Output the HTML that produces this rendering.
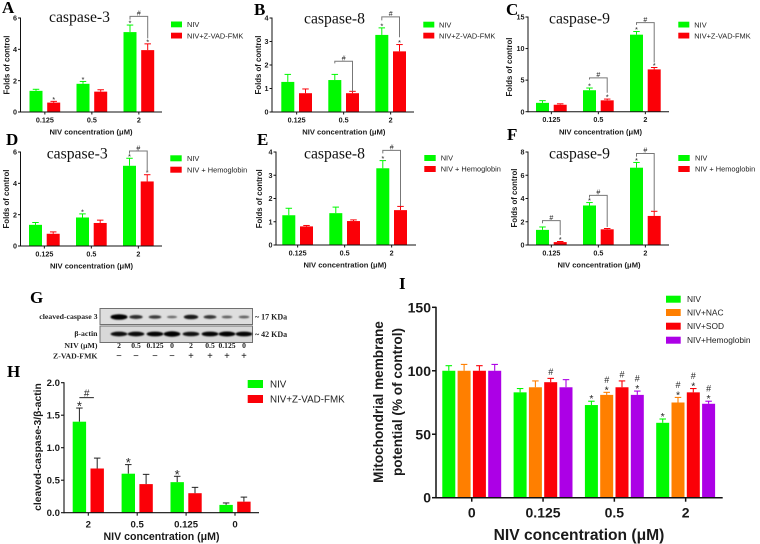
<!DOCTYPE html>
<html lang="en">
<head>
<meta charset="utf-8">
<title>NIV caspase and mitochondrial membrane potential figure</title>
<style>
html,body{margin:0;padding:0;background:#fff;width:760px;height:544px;overflow:hidden}
#figure{display:block;filter:blur(.35px)}
text{font-family:"Liberation Sans",sans-serif}
.serif{font-family:"Liberation Serif",serif}
</style>
</head>
<body>
<svg id="figure" width="760" height="544" viewBox="0 0 760 544" xmlns="http://www.w3.org/2000/svg">
<defs><filter id="bandBlur" x="-30%" y="-80%" width="160%" height="260%"><feGaussianBlur stdDeviation="0.8"/></filter></defs>
<g class="serif" font-family="Liberation Serif" font-weight="bold" font-size="17" fill="#000">
<text x="2" y="13" style="font-family:'Liberation Serif',serif">A</text>
<text x="254" y="15" style="font-family:'Liberation Serif',serif">B</text>
<text x="506" y="15" style="font-family:'Liberation Serif',serif">C</text>
<text x="6" y="145" style="font-family:'Liberation Serif',serif">D</text>
<text x="257" y="145" style="font-family:'Liberation Serif',serif">E</text>
<text x="507" y="140" style="font-family:'Liberation Serif',serif">F</text>
<text x="30" y="303" style="font-family:'Liberation Serif',serif">G</text>
<text x="7" y="377" style="font-family:'Liberation Serif',serif">H</text>
<text x="399" y="289" style="font-family:'Liberation Serif',serif">I</text>
</g>
<g id="blot">
<rect x="100" y="308.5" width="152.5" height="16" fill="#dedede" stroke="#707070"/>
<rect x="100" y="326" width="152.5" height="16.5" fill="#d8d8d8" stroke="#707070"/>
<g font-weight="bold" font-size="7.8" fill="#222" style="font-family:'Liberation Serif',serif">
<text x="97.5" y="319" text-anchor="end" style="font-family:'Liberation Serif',serif">cleaved-caspase 3</text>
<text x="97.5" y="336" text-anchor="end" style="font-family:'Liberation Serif',serif">β-actin</text>
<text x="97.5" y="348" text-anchor="end" style="font-family:'Liberation Serif',serif">NIV (μM)</text>
<text x="97.5" y="358.5" text-anchor="end" style="font-family:'Liberation Serif',serif">Z-VAD-FMK</text>
<text x="255" y="319.5" font-size="8" style="font-family:'Liberation Serif',serif">~ 17 KDa</text>
<text x="255" y="337" font-size="8" style="font-family:'Liberation Serif',serif">~ 42 KDa</text>
</g>
</g>
</svg>
<script>
// Shared categories
const doseCategories = ['0.125', '0.5', '2'];
const hCategories = ['2', '0.5', '0.125', '0'];
const iCategories = ['0', '0.125', '0.5', '2'];

// Panel A
const aNiv = [1.35, 1.8, 5.1];
const aNivErr = [0.1, 0.15, 0.45];
const aDrug = [0.6, 1.3, 3.95];
const aDrugErr = [0.08, 0.12, 0.4];
// Panel B
const bNiv = [1.28, 1.36, 3.28];
const bNivErr = [0.32, 0.24, 0.3];
const bDrug = [0.8, 0.8, 2.58];
const bDrugErr = [0.18, 0.08, 0.29];
// Panel C
const cNiv = [1.4, 3.4, 12.2];
const cNivErr = [0.35, 0.35, 0.5];
const cDrug = [1.1, 1.8, 6.7];
const cDrugErr = [0.15, 0.2, 0.3];
// Panel D
const dNiv = [1.35, 1.82, 5.12];
const dNivErr = [0.15, 0.23, 0.48];
const dDrug = [0.78, 1.47, 4.12];
const dDrugErr = [0.12, 0.18, 0.43];
// Panel E
const eNiv = [1.28, 1.37, 3.3];
const eNivErr = [0.3, 0.26, 0.33];
const eDrug = [0.8, 1.03, 1.5];
const eDrugErr = [0.04, 0.05, 0.16];
// Panel F
const fNiv = [1.3, 3.4, 6.65];
const fNivErr = [0.25, 0.25, 0.45];
const fDrug = [0.25, 1.35, 2.5];
const fDrugErr = [0.05, 0.07, 0.4];
// Panel H
const hNiv = [1.4, 0.6, 0.47, 0.12];
const hNivErr = [0.21, 0.14, 0.09, 0.03];
const hDrug = [0.68, 0.44, 0.3, 0.17];
const hDrugErr = [0.16, 0.15, 0.09, 0.07];
// Panel I
const iNiv = [100, 83, 73, 59];
const iNivErr = [4, 3, 3, 3];
const iNac = [100, 87, 81, 75];
const iNacErr = [5, 5, 2, 4];
const iSod = [100, 91, 87, 83];
const iSodErr = [4, 3, 5, 3];
const iHem = [100, 87, 81, 74];
const iHemErr = [5, 6, 3, 2];
// Tick labels
const ticks0to6 = [0, 2, 4, 6];
const ticks0to4 = [0, 1, 2, 3, 4];
const ticks0to15 = [0, 5, 10, 15];
const ticks0to8 = [0, 2, 4, 6, 8];
const ticksH = ['0.0', '0.5', '1.0', '1.5', '2.0'];
const ticksI = [0, 50, 100, 150];
// Blot data
const laneDoses = ['2', '0.5', '0.125', '0', '2', '0.5', '0.125', '0'];
const laneInhibitor = ['−', '−', '−', '−', '+', '+', '+', '+'];
const caspaseBand = [1, 0.6, 0.52, 0.25, 0.72, 0.55, 0.3, 0.3];
const actinBand = [0.8, 0.82, 0.86, 1, 0.78, 0.85, 0.9, 0.85];

const GREEN = '#00f900', RED = '#fb0007', ORANGE = '#ff7f00', PURPLE = '#ac00e6';
const NS = 'http://www.w3.org/2000/svg';
const svg = document.getElementById('figure');

function mk(tag, attrs, parent, txt) {
  const n = document.createElementNS(NS, tag);
  for (const k in attrs) n.setAttribute(k, attrs[k]);
  if (txt !== undefined) n.textContent = txt;
  parent.appendChild(n);
  return n;
}

function drawPanel(c) {
  const g = mk('g', {}, svg);
  
  
  const yS = v => c.y0 - v / c.yMax * (c.y0 - c.top);
  const xS = (gi, si) => c.x0 + gi * c.gStep + si * c.barStep;
  const nS = c.series.length;
  const center = gi => xS(gi, 0) + ((nS - 1) * c.barStep + c.barW) / 2;

  // Bars and error bars
  c.series.forEach((s, si) => {
    s.values.forEach((v, gi) => {
      const x = xS(gi, si), cx = x + c.barW / 2, top = yS(v + s.errs[gi]);
      const ec = c.errColor || s.color;
      const stem = mk('line', {x1: cx, x2: cx, y1: yS(v), y2: top, stroke: ec, 'stroke-width': c.errW}, g);
      
      
      const cap = mk('line', {x1: cx - c.capW / 2, x2: cx + c.capW / 2, y1: top, y2: top, stroke: ec, 'stroke-width': c.errW}, g);
      
      
      const bar = mk('rect', {x: x, y: yS(v), width: c.barW, height: c.y0 - yS(v), fill: s.color}, g);
      
      
    });
  });

  // Axes
  const ya = mk('line', {x1: c.ox, x2: c.ox, y1: c.top - .5, y2: c.y0 + .5, stroke: '#111', 'stroke-width': c.axisW}, g);
  
  
  const xa = mk('line', {x1: c.ox, x2: c.xEnd, y1: c.y0, y2: c.y0, stroke: '#111', 'stroke-width': c.axisW}, g);
  
  

  c.yTicks.forEach((t, i) => {
    const v = Number(t), y = yS(v);
    const tk = mk('line', {x1: c.ox - c.tickLen, x2: c.ox, y1: y, y2: y, stroke: '#111', 'stroke-width': c.axisW}, g);
    
    
    const lb = mk('text', {x: c.ox - c.tickLen - 1, y: y + c.tickFont * .36, 'text-anchor': 'end', 'font-size': c.tickFont, 'font-weight': 'bold', fill: '#1a1a1a'}, g, t);
    
    
  });
  c.cats.forEach((t, i) => {
    const x = center(i);
    const tk = mk('line', {x1: x, x2: x, y1: c.y0, y2: c.y0 + c.tickLen, stroke: '#111', 'stroke-width': c.axisW}, g);
    
    
    const lb = mk('text', {x: x, y: c.y0 + c.xLabelDy, 'text-anchor': 'middle', 'font-size': c.tickFont, 'font-weight': 'bold', fill: '#1a1a1a'}, g, t);
    
    
  });

  // Axis titles
  const xt = mk('text', {x: c.xTitle[0], y: c.xTitle[1], 'text-anchor': 'middle', 'font-size': c.xTitleFont, 'font-weight': 'bold', fill: '#1a1a1a'}, g, 'NIV concentration (μM)');
  
  
  c.yTitle.forEach(line => {
    const yt = mk('text', {transform: 'translate(' + line[1] + ',' + line[2] + ') rotate(-90)', 'text-anchor': 'middle', 'font-size': c.yTitleFont, 'font-weight': 'bold', fill: '#1a1a1a'}, g, line[0]);
    
    
  });

  // Chart title
  if (c.title) {
    const tt = mk('text', {x: c.title[1], y: c.title[2], 'font-size': 15.7, fill: '#111', style: "font-family:'Liberation Serif',serif"}, g, c.title[0]);
    
    
  }

  // Legend
  c.series.forEach((s, si) => {
    const sw = mk('rect', {x: c.legend.x, y: c.legend.ys[si], width: c.legend.w, height: c.legend.h, fill: s.color}, g);
    
    
    const lt = mk('text', {x: c.legend.tx, y: c.legend.ys[si] + c.legend.h / 2 + c.legend.font * .36, 'font-size': c.legend.font, fill: '#222'}, g, s.name);
    
    
  });

  // Significance stars and hashes
  (c.marks || []).forEach(m => {
    const s = c.series[m[1]];
    const cx = xS(m[0], m[1]) + c.barW / 2;
    const top = yS(s.values[m[0]] + s.errs[m[0]]);
    m[2].split('').forEach((ch, k) => {
      const by = top + c.markDy - k * c.markStep;
      const t = mk('text', {x: cx, y: by + (ch === '#' ? c.hashDy : 0), 'text-anchor': 'middle', 'font-size': ch === '#' ? (c.hashFont || c.markFont) : c.markFont, fill: '#222'}, g, ch);
      
      
    });
  });

  // Brackets: group, top value, left end value, right end value
  (c.brackets || []).forEach(b => {
    const x1 = xS(b[0], 0) + c.barW / 2;
    const x2 = x1 + (c.bracketSpan || c.barStep);
    const br = mk('polyline', {points: x1 + ',' + yS(b[2]) + ' ' + x1 + ',' + yS(b[1]) + ' ' + x2 + ',' + yS(b[1]) + ' ' + x2 + ',' + yS(b[3]), fill: 'none', stroke: c.bracketColor || '#777', 'stroke-width': c.bracketW || 1}, g);
    
    
    const h = mk('text', {x: (x1 + x2) / 2, y: yS(b[1]) - c.bracketHashDy, 'text-anchor': 'middle', 'font-size': c.bracketHashFont || 7, fill: '#222'}, g, '#');
    
    
  });
}

const small = {tickFont: 7.2, xTitleFont: 7.6, yTitleFont: 7.8, axisW: 1, tickLen: 2.5, xLabelDy: 10.5, barW: 13, barStep: 17.7, gStep: 47, capW: 6.5, errW: 1, markFont: 7.6, markDy: .5, markStep: 6, hashDy: 0, bracketHashDy: .8};
const two = (k1, v1, e1, k2, n2, v2, e2) => [
  {key: k1, name: 'NIV', values: v1, errs: e1, color: GREEN},
  {key: k2, name: n2, values: v2, errs: e2, color: RED}
];

drawPanel(Object.assign({}, small, {id: 'a', ox: 20.5, y0: 112, top: 18, xEnd: 162, yMax: 6, yTicks: ticks0to6, x0: 29.5, cats: doseCategories,
  series: two('niv', aNiv, aNivErr, 'zvad', 'NIV+Z-VAD-FMK', aDrug, aDrugErr),
  title: ['caspase-3', 49, 22], xTitle: [91, 134.3], yTitle: [['Folds of control', 9.5, 65]],
  legend: {x: 171, ys: [21.5, 32.7], w: 11, h: 5.8, tx: 187, font: 7.4},
  marks: [[0,1,'*'],[1,0,'*'],[2,0,'*'],[2,1,'*']], brackets: [[2, 6.1, 5.9, 4.7]]}));
drawPanel(Object.assign({}, small, {id: 'b', ox: 272, y0: 112, top: 18, xEnd: 414, yMax: 4, yTicks: ticks0to4, x0: 281.3, cats: doseCategories,
  series: two('niv', bNiv, bNivErr, 'zvad', 'NIV+Z-VAD-FMK', bDrug, bDrugErr),
  title: ['caspase-8', 304, 23.5], xTitle: [343.8, 134.3], yTitle: [['Folds of control', 261, 65]],
  legend: {x: 423.3, ys: [21.7, 32.7], w: 11, h: 5.8, tx: 439, font: 7.4},
  marks: [[2,0,'*'],[2,1,'*']], brackets: [[1, 2.16, 2.07, .87],[2, 4.05, 3.9, 3.18]]}));
drawPanel(Object.assign({}, small, {id: 'c', ox: 528, y0: 111.7, top: 17, xEnd: 669, yMax: 15, yTicks: ticks0to15, x0: 536, cats: doseCategories,
  series: two('niv', cNiv, cNivErr, 'zvad', 'NIV+Z-VAD-FMK', cDrug, cDrugErr),
  title: ['caspase-9', 549, 23.5], xTitle: [600.5, 134.7], yTitle: [['Folds of control', 512, 67]],
  legend: {x: 678.3, ys: [21.7, 32.7], w: 11, h: 5.8, tx: 694.3, font: 7.4},
  marks: [[1,0,'*'],[1,1,'*'],[2,0,'*'],[2,1,'*']], brackets: [[1, 5.35, 5.1, 3],[2, 14.1, 13.75, 7.8]]}));
drawPanel(Object.assign({}, small, {id: 'd', ox: 20.5, y0: 246, top: 152, xEnd: 162, yMax: 6, yTicks: ticks0to6, x0: 29, cats: doseCategories,
  series: two('niv', dNiv, dNivErr, 'hemoglobin', 'NIV + Hemoglobin', dDrug, dDrugErr),
  title: ['caspase-3', 46.7, 158.3], xTitle: [91.5, 268.3], yTitle: [['Folds of control', 9, 199]],
  legend: {x: 170.3, ys: [155.3, 166.7], w: 11.4, h: 6, tx: 187, font: 7.4},
  marks: [[1,0,'*'],[2,0,'*'],[2,1,'*']], brackets: [[2, 6.06, 5.9, 4.74]]}));
drawPanel(Object.assign({}, small, {id: 'e', ox: 276, y0: 245, top: 152, xEnd: 416, yMax: 4, yTicks: ticks0to4, x0: 282.3, cats: doseCategories,
  series: two('niv', eNiv, eNivErr, 'hemoglobin', 'NIV + Hemoglobin', eDrug, eDrugErr),
  title: ['caspase-8', 304, 158.3], xTitle: [345, 267.7], yTitle: [['Folds of control', 262, 198.8]],
  legend: {x: 424.3, ys: [155, 166], w: 11.4, h: 6, tx: 440.7, font: 7.4},
  marks: [[2,0,'*']], brackets: [[2, 4.07, 3.94, 1.68]]}));
drawPanel(Object.assign({}, small, {id: 'f', ox: 528, y0: 245, top: 152, xEnd: 669, yMax: 8, yTicks: ticks0to8, x0: 536, cats: doseCategories,
  series: two('niv', fNiv, fNivErr, 'hemoglobin', 'NIV + Hemoglobin', fDrug, fDrugErr),
  title: ['caspase-9', 549, 158.3], xTitle: [599, 267.7], yTitle: [['Folds of control', 517, 198]],
  legend: {x: 678.3, ys: [155, 166], w: 11.4, h: 6, tx: 695, font: 7.4},
  marks: [[0,1,'*'],[1,0,'*'],[2,0,'*']], brackets: [[0, 2.1, 1.87, .85],[1, 4.27, 4.08, 1.55],[2, 7.87, 7.6, 2.95]]}));

drawPanel({id: 'h', ox: 64, y0: 512.7, top: 382.7, xEnd: 259, yMax: 2, yTicks: ticksH, x0: 72.7, gStep: 48.9, barStep: 17.8, barW: 13.4, cats: hCategories,
  series: two('niv', hNiv, hNivErr, 'zvad', 'NIV+Z-VAD-FMK', hDrug, hDrugErr),
  errColor: '#222', errW: 1, capW: 6.5, axisW: 1.1, tickLen: 3, tickFont: 9.6, xLabelDy: 15, xTitleFont: 10.6, yTitleFont: 10.3,
  xTitle: [161.5, 540], yTitle: [['cleaved-caspase-3/β-actin', 41, 447]],
  legend: {x: 247.7, ys: [380, 395], w: 15.3, h: 8, tx: 270, font: 9.8},
  marks: [[0,0,'*'],[1,0,'*'],[2,0,'*']], markFont: 13, markDy: 2.5, markStep: 9, hashDy: 0,
  brackets: [[0, 1.77, 1.77, 1.77]], bracketSpan: 14.5, bracketColor: '#222', bracketW: 1, bracketHashDy: 1, bracketHashFont: 10});

drawPanel({id: 'i', ox: 436, y0: 497.7, top: 307.3, xEnd: 722.7, yMax: 150, yTicks: ticksI, x0: 442.3, gStep: 71.3, barStep: 15.3, barW: 13, cats: iCategories,
  series: [
    {key: 'niv', name: 'NIV', values: iNiv, errs: iNivErr, color: GREEN},
    {key: 'nac', name: 'NIV+NAC', values: iNac, errs: iNacErr, color: ORANGE},
    {key: 'sod', name: 'NIV+SOD', values: iSod, errs: iSodErr, color: RED},
    {key: 'hemoglobin', name: 'NIV+Hemoglobin', values: iHem, errs: iHemErr, color: PURPLE}
  ],
  errW: 1.1, capW: 6.5, axisW: 1.5, tickLen: 4, tickFont: 14, xLabelDy: 20, xTitleFont: 15.6, yTitleFont: 13.6,
  xTitle: [579, 540], yTitle: [['Mitochondrial membrane', 383, 402], ['potential (% of control)', 402, 402]],
  legend: {x: 666, ys: [295.7, 309, 322.7, 336.7], w: 14.7, h: 7, tx: 687, font: 8.4},
  marks: [[1,2,'#'],[2,0,'*'],[2,1,'*#'],[2,2,'#'],[2,3,'*#'],[3,0,'*'],[3,1,'*#'],[3,2,'*#'],[3,3,'*#']],
  markFont: 10.5, hashFont: 9, markDy: 1, markStep: 6, hashDy: -4.5});

// Western blot lanes and bands
const blot = document.getElementById('blot');
const laneX = i => [119, 136, 155, 172, 191, 210, 227, 244][i];
caspaseBand.forEach((v, i) => {
  const b = mk('ellipse', {cx: laneX(i), cy: 317, rx: 4 + v * 4.5, ry: .7 + v * 2.1, fill: '#000', opacity: Math.min(1, .35 + v * .75), filter: 'url(#bandBlur)'}, blot);
  
  
});
actinBand.forEach((v, i) => {
  const b = mk('ellipse', {cx: laneX(i), cy: 334, rx: 8.4, ry: .8 + v * 1.9, fill: '#000', opacity: Math.min(1, .3 + v * .8), filter: 'url(#bandBlur)'}, blot);
  
  
});
laneDoses.forEach((t, i) => {
  const l = mk('text', {x: laneX(i), y: 348, 'text-anchor': 'middle', 'font-size': 7.6, 'font-weight': 'bold', fill: '#222', style: "font-family:'Liberation Serif',serif"}, blot, t);
  
  
});
laneInhibitor.forEach((t, i) => {
  const l = mk('text', {x: laneX(i), y: 359, 'text-anchor': 'middle', 'font-size': 10, 'font-weight': 'bold', fill: '#111', style: "font-family:'Liberation Serif',serif"}, blot, t);
  
  
});
</script>
</body>
</html>
